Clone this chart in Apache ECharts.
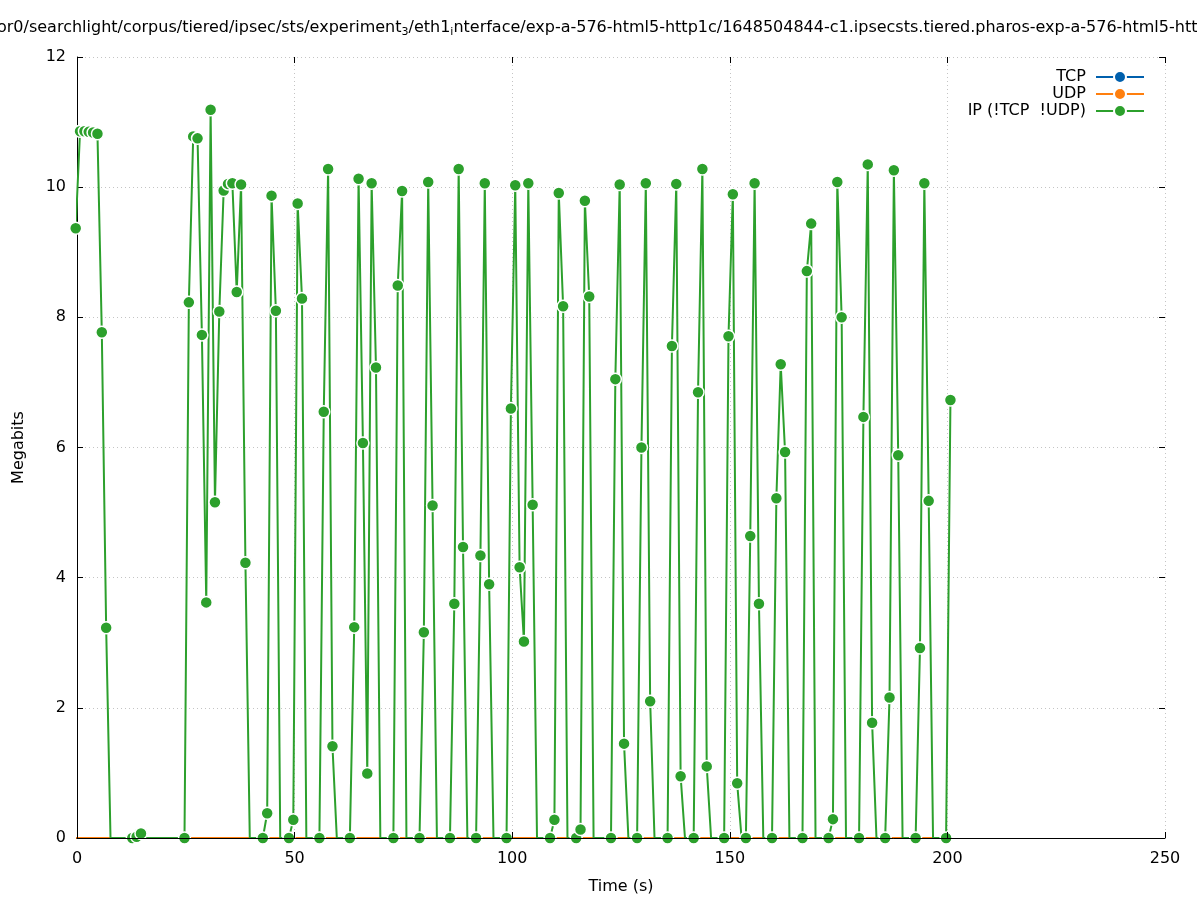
<!DOCTYPE html>
<html><head><meta charset="utf-8">
<script src="https://cdn.jsdelivr.net/npm/echarts@6/dist/echarts.min.js"></script>
<style>html,body{margin:0;padding:0;background:#fff}#c{width:1197px;height:900px}</style>
</head><body><div id="c"></div>
<script>
// Sample times (s)
const times = [
 -0.3,0.7,1.7,2.7,3.7,4.7,5.7,6.7,7.7,8.7,
 9.7,10.7,11.7,12.7,13.7,14.7,15.7,16.7,17.7,18.7,
 19.7,20.7,21.7,22.7,23.7,24.7,25.7,26.7,27.7,28.7,
 29.7,30.7,31.7,32.7,33.7,34.7,35.7,36.7,37.7,38.7,
 39.7,40.7,41.7,42.7,43.7,44.7,45.7,46.7,47.7,48.7,
 49.7,50.7,51.7,52.7,53.7,54.7,55.7,56.7,57.7,58.7,
 59.7,60.7,61.7,62.7,63.7,64.7,65.7,66.7,67.7,68.7,
 69.7,70.7,71.7,72.7,73.7,74.7,75.7,76.7,77.7,78.7,
 79.7,80.7,81.7,82.7,83.7,84.7,85.7,86.7,87.7,88.7,
 89.7,90.7,91.7,92.7,93.7,94.7,95.7,96.7,97.7,98.7,
 99.7,100.7,101.7,102.7,103.7,104.7,105.7,106.7,107.7,108.7,
 109.7,110.7,111.7,112.7,113.7,114.7,115.7,116.7,117.7,118.7,
 119.7,120.7,121.7,122.7,123.7,124.7,125.7,126.7,127.7,128.7,
 129.7,130.7,131.7,132.7,133.7,134.7,135.7,136.7,137.7,138.7,
 139.7,140.7,141.7,142.7,143.7,144.7,145.7,146.7,147.7,148.7,
 149.7,150.7,151.7,152.7,153.7,154.7,155.7,156.7,157.7,158.7,
 159.7,160.7,161.7,162.7,163.7,164.7,165.7,166.7,167.7,168.7,
 169.7,170.7,171.7,172.7,173.7,174.7,175.7,176.7,177.7,178.7,
 179.7,180.7,181.7,182.7,183.7,184.7,185.7,186.7,187.7,188.7,
 189.7,190.7,191.7,192.7,193.7,194.7,195.7,196.7,197.7,198.7,
 199.7,200.7
];
// IP (!TCP !UDP) throughput, Megabits
const ipValues = [
 9.37,10.86,10.86,10.85,10.84,10.82,7.77,3.23,0,0,
 0,0,0,0,0.02,0.07,0,0,0,0,
 0,0,0,0,0,0,8.23,10.78,10.75,7.73,
 3.62,11.19,5.16,8.09,9.95,10.05,10.06,8.39,10.04,4.23,
 0,0,0,0,0.38,9.87,8.1,0,0,0,
 0.28,9.75,8.29,0,0,0,0,6.55,10.28,1.41,
 0,0,0,0,3.24,10.13,6.07,0.99,10.06,7.23,
 0,0,0,0,8.49,9.94,0,0,0,0,
 3.16,10.08,5.11,0,0,0,0,3.6,10.28,4.47,
 0,0,0,4.34,10.06,3.9,0,0,0,0,
 6.6,10.03,4.16,3.02,10.06,5.12,0,0,0,0,
 0.28,9.91,8.17,0,0,0,0.13,9.79,8.32,0,
 0,0,0,0,7.05,10.04,1.45,0,0,0,
 6.0,10.06,2.1,0,0,0,0,7.56,10.05,0.95,
 0,0,0,6.85,10.28,1.1,0,0,0,0,
 7.71,9.89,0.84,0,0,4.64,10.06,3.6,0,0,
 0,5.22,7.28,5.93,0,0,0,0,8.71,9.44,
 0,0,0,0,0.29,10.08,8.0,0,0,0,
 0,6.47,10.35,1.77,0,0,0,2.16,10.26,5.88,
 0,0,0,0,2.92,10.06,5.18,0,0,0,
 0,6.73
];
// TCP and UDP throughput (all zero)
const tcpValues = [
 0,0,0,0,0,0,0,0,0,0, 0,0,0,0,0,0,0,0,0,0, 0,0,0,0,0,0,0,0,0,0, 0,0,0,0,0,0,0,0,0,0,
 0,0,0,0,0,0,0,0,0,0, 0,0,0,0,0,0,0,0,0,0, 0,0,0,0,0,0,0,0,0,0, 0,0,0,0,0,0,0,0,0,0,
 0,0,0,0,0,0,0,0,0,0, 0,0,0,0,0,0,0,0,0,0, 0,0,0,0,0,0,0,0,0,0, 0,0,0,0,0,0,0,0,0,0,
 0,0,0,0,0,0,0,0,0,0, 0,0,0,0,0,0,0,0,0,0, 0,0,0,0,0,0,0,0,0,0, 0,0,0,0,0,0,0,0,0,0,
 0,0,0,0,0,0,0,0,0,0, 0,0,0,0,0,0,0,0,0,0, 0,0,0,0,0,0,0,0,0,0, 0,0,0,0,0,0,0,0,0,0,
 0,0
];
const udpValues = [
 0,0,0,0,0,0,0,0,0,0, 0,0,0,0,0,0,0,0,0,0, 0,0,0,0,0,0,0,0,0,0, 0,0,0,0,0,0,0,0,0,0,
 0,0,0,0,0,0,0,0,0,0, 0,0,0,0,0,0,0,0,0,0, 0,0,0,0,0,0,0,0,0,0, 0,0,0,0,0,0,0,0,0,0,
 0,0,0,0,0,0,0,0,0,0, 0,0,0,0,0,0,0,0,0,0, 0,0,0,0,0,0,0,0,0,0, 0,0,0,0,0,0,0,0,0,0,
 0,0,0,0,0,0,0,0,0,0, 0,0,0,0,0,0,0,0,0,0, 0,0,0,0,0,0,0,0,0,0, 0,0,0,0,0,0,0,0,0,0,
 0,0,0,0,0,0,0,0,0,0, 0,0,0,0,0,0,0,0,0,0, 0,0,0,0,0,0,0,0,0,0, 0,0,0,0,0,0,0,0,0,0,
 0,0
];
const seriesNames = ['TCP', 'UDP', 'IP (!TCP  !UDP)'];
const xTicks = [0, 50, 100, 150, 200, 250];
const yTicks = [0, 2, 4, 6, 8, 10, 12];

const FONT = 'DejaVu Sans';
const pairs = (vals) => times.map((t, i) => [t, vals[i]]);
const ipData = times.map((t, i) => {
  const v = ipValues[i];
  const nxt = i + 1 < ipValues.length ? ipValues[i + 1] : 0;
  return (v > 0 || nxt > 0) ? [t, v] : { value: [t, v], symbol: 'none' };
});
const dotted = { show: true, lineStyle: { color: '#c4c4c4', type: [1, 3], width: 1 } };
const tickIn = { show: true, inside: true, length: 6, lineStyle: { color: '#000', width: 1 } };

const chart = echarts.init(document.getElementById('c'), null, { renderer: 'canvas' });
chart.setOption({
  animation: false,
  backgroundColor: '#fff',
  grid: { left: 77, right: 32, top: 57, bottom: 62, containLabel: false },
  graphic: [{
    type: 'text', left: -3, top: 20, z: 100,
    style: {
      text: '{n|or0/searchlight/corpus/tiered/ipsec/sts/experiment}{s|3}{n|/eth1}{s|i}{n|nterface/exp-a-576-html5-http1c/1648504844-c1.ipsecsts.tiered.pharos-exp-a-576-html5-http1c}',
      rich: {
        n: { fontFamily: FONT, fontSize: 16, fill: '#000', lineHeight: 20 },
        s: { fontFamily: FONT, fontSize: 11, fill: '#000', lineHeight: 11, verticalAlign: 'bottom' }
      }
    }
  }],
  legend: {
    orient: 'vertical', right: 47, top: 64, align: 'right',
    itemWidth: 48, itemHeight: 15, itemGap: 1, selectedMode: false,
    formatter: (name) => name + ' ',
    textStyle: { fontFamily: FONT, fontSize: 16, color: '#000' },
    data: seriesNames
  },
  xAxis: [{
    type: 'value', min: xTicks[0], max: xTicks[xTicks.length - 1], interval: xTicks[1] - xTicks[0],
    position: 'bottom', z: 10,
    axisLine: { show: true, onZero: false, lineStyle: { color: '#000', width: 1 } },
    axisTick: tickIn,
    axisLabel: { fontFamily: FONT, fontSize: 16, color: '#000', margin: 13 },
    splitLine: { show: false },
    name: 'Time (s)', nameLocation: 'middle', nameGap: 41,
    nameTextStyle: { fontFamily: FONT, fontSize: 16, color: '#000' }
  }, {
    type: 'value', min: xTicks[0], max: xTicks[xTicks.length - 1], interval: xTicks[1] - xTicks[0],
    position: 'top', z: 0,
    axisLine: { show: false, onZero: false },
    axisTick: tickIn, axisLabel: { show: false },
    splitLine: dotted
  }],
  yAxis: [{
    type: 'value', min: yTicks[0], max: yTicks[yTicks.length - 1], interval: yTicks[1] - yTicks[0],
    position: 'left',
    axisLine: { show: true, onZero: false, lineStyle: { color: '#000', width: 1 } },
    axisTick: tickIn,
    axisLabel: { fontFamily: FONT, fontSize: 16, color: '#000', margin: 11 },
    splitLine: dotted,
    name: 'Megabits', nameLocation: 'middle', nameGap: 50, nameRotate: 90,
    nameTextStyle: { fontFamily: FONT, fontSize: 16, color: '#000' }
  }, {
    type: 'value', min: yTicks[0], max: yTicks[yTicks.length - 1], interval: yTicks[1] - yTicks[0],
    position: 'right',
    axisLine: { show: false, onZero: false },
    axisTick: tickIn, axisLabel: { show: false }, splitLine: { show: false }
  }],
  series: [{
    name: seriesNames[0], type: 'line', xAxisIndex: 0, yAxisIndex: 0,
    data: pairs(tcpValues), symbol: 'circle', symbolSize: 12, showSymbol: false,
    color: '#0060ad', lineStyle: { width: 2, color: '#0060ad' },
    itemStyle: { color: '#0060ad', borderColor: '#fff', borderWidth: 2 },
    z: 1, clip: false
  }, {
    name: seriesNames[1], type: 'line', xAxisIndex: 0, yAxisIndex: 0,
    data: pairs(udpValues), symbol: 'circle', symbolSize: 12, showSymbol: false,
    color: '#ff7f0e', lineStyle: { width: 2, color: '#ff7f0e' },
    itemStyle: { color: '#ff7f0e', borderColor: '#fff', borderWidth: 2 },
    z: 1, clip: false
  }, {
    name: seriesNames[2], type: 'line', xAxisIndex: 0, yAxisIndex: 0,
    data: ipData, symbol: 'circle', symbolSize: 12, showSymbol: true,
    color: '#2ca02c', lineStyle: { width: 2, color: '#2ca02c' },
    itemStyle: { color: '#2ca02c', borderColor: '#fff', borderWidth: 1.5 },
    z: 3, clip: false
  }]
});
</script>
</body></html>
